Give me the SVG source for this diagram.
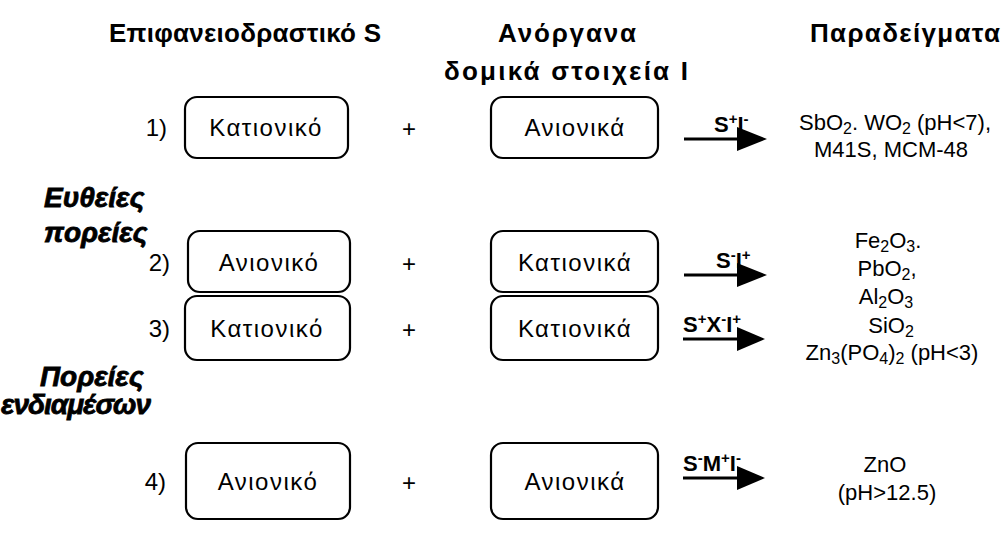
<svg xmlns="http://www.w3.org/2000/svg" width="1007" height="544" viewBox="0 0 1007 544">
  <style>
    text { font-family: "Liberation Sans", Arial, sans-serif; fill: #000; }
    .hdr { font-size: 26px; font-weight: bold; text-anchor: middle; }
    .box { fill: #fff; stroke: #000; stroke-width: 2.2; }
    .lbl { font-size: 24px; text-anchor: middle; letter-spacing: 1.5px; }
    .num { font-size: 24px; text-anchor: end; }
    .plus { font-size: 24px; text-anchor: middle; }
    .side { font-size: 28px; font-weight: bold; font-style: italic; stroke: #000; stroke-width: 0.8px; }
    .rx { font-size: 22px; font-weight: bold; }
    .ex { font-size: 22px; text-anchor: middle; }
    .sub { font-size: 16px; }
    .sup { font-size: 15px; }
    .shaft { stroke: #000; stroke-width: 3; fill: none; }
    .head { fill: #000; }
  </style>

  <!-- column headings -->
  <g id="headings">
    <text class="hdr" x="245" y="42" textLength="272" lengthAdjust="spacing">Επιφανειοδραστικό S</text>
    <text class="hdr" x="567" y="42" textLength="138" lengthAdjust="spacing">Ανόργανα</text>
    <text class="hdr" x="566" y="80" textLength="244" lengthAdjust="spacing">δομικά στοιχεία Ι</text>
    <text class="hdr" x="905" y="42" textLength="190" lengthAdjust="spacing">Παραδείγματα</text>
  </g>

  <!-- pathway group labels -->
  <g id="group-direct">
    <text class="side" x="44" y="207">Ευθείες</text>
    <text class="side" x="44" y="242">πορείες</text>
  </g>
  <g id="group-mediated">
    <text class="side" x="40" y="386">Πορείες</text>
    <text class="side" x="1" y="414" textLength="150" lengthAdjust="spacing">ενδιαμέσων</text>
  </g>

  <!-- row 1 -->
  <g id="row1">
    <text class="num" x="167" y="136">1)</text>
    <g id="s1"><rect class="box" x="185" y="97" width="163" height="61" rx="12"/><text class="lbl" x="266" y="136">Κατιονικό</text></g>
    <text class="plus" x="409" y="137">+</text>
    <g id="i1"><rect class="box" x="491" y="97" width="167" height="61" rx="12"/><text class="lbl" x="575" y="136">Ανιονικά</text></g>
    <g id="e1">
      <text class="ex" x="895" y="130">SbO<tspan class="sub" dy="4">2</tspan><tspan dy="-4">. WO</tspan><tspan class="sub" dy="4">2</tspan><tspan dy="-4"> (pH&lt;7),</tspan></text>
      <text class="ex" x="891" y="157">M41S, MCM-48</text>
    </g>
  </g>

  <!-- row 2 -->
  <g id="row2">
    <text class="num" x="170" y="271">2)</text>
    <g id="s2"><rect class="box" x="188" y="231" width="162" height="61" rx="12"/><text class="lbl" x="269" y="271">Ανιονικό</text></g>
    <text class="plus" x="409" y="272">+</text>
    <g id="i2"><rect class="box" x="491" y="231" width="167" height="61" rx="12"/><text class="lbl" x="575" y="271">Κατιονικά</text></g>
    <g id="e2">
      <text class="ex" x="888" y="248">Fe<tspan class="sub" dy="4">2</tspan><tspan dy="-4">O</tspan><tspan class="sub" dy="4">3</tspan><tspan dy="-4">.</tspan></text>
      <text class="ex" x="887" y="276">PbO<tspan class="sub" dy="4">2</tspan><tspan dy="-4">,</tspan></text>
      <text class="ex" x="886" y="304">Al<tspan class="sub" dy="4">2</tspan><tspan dy="-4">O</tspan><tspan class="sub" dy="4">3</tspan></text>
    </g>
  </g>

  <!-- row 3 -->
  <g id="row3">
    <text class="num" x="170" y="337">3)</text>
    <g id="s3"><rect class="box" x="185" y="296" width="165" height="64" rx="12"/><text class="lbl" x="267" y="337">Κατιονικό</text></g>
    <text class="plus" x="409" y="338">+</text>
    <g id="i3"><rect class="box" x="491" y="296" width="167" height="64" rx="12"/><text class="lbl" x="575" y="337">Κατιονικά</text></g>
    <g id="e3">
      <text class="ex" x="891" y="333">SiO<tspan class="sub" dy="4">2</tspan></text>
      <text class="ex" x="892" y="360">Zn<tspan class="sub" dy="4">3</tspan><tspan dy="-4">(PO</tspan><tspan class="sub" dy="4">4</tspan><tspan dy="-4">)</tspan><tspan class="sub" dy="4">2</tspan><tspan dy="-4"> (pH&lt;3)</tspan></text>
    </g>
  </g>

  <!-- row 4 -->
  <g id="row4">
    <text class="num" x="166" y="490">4)</text>
    <g id="s4"><rect class="box" x="186" y="443" width="164" height="76" rx="12"/><text class="lbl" x="268" y="490">Ανιονικό</text></g>
    <text class="plus" x="409" y="491">+</text>
    <g id="i4"><rect class="box" x="491" y="443" width="167" height="76" rx="12"/><text class="lbl" x="575" y="490">Ανιονικά</text></g>
    <g id="e4">
      <text class="ex" x="885" y="472">ZnO</text>
      <text class="ex" x="887" y="500">(pH&gt;12.5)</text>
    </g>
  </g>

  <!-- reaction arrows with interaction labels -->
  <g id="connectors">
    <g id="a1">
      <line class="shaft" x1="684" y1="139" x2="742" y2="139"/>
      <polygon class="head" points="737,127 767,139 737,151"/>
      <text class="rx" x="714" y="132">S<tspan class="sup" dy="-8">+</tspan><tspan dy="8">I</tspan><tspan class="sup" dy="-8">-</tspan></text>
    </g>
    <g id="a2">
      <line class="shaft" x1="684" y1="275" x2="742" y2="275"/>
      <polygon class="head" points="737,263 767,275 737,287"/>
      <text class="rx" x="716" y="268">S<tspan class="sup" dy="-8">-</tspan><tspan dy="8">I</tspan><tspan class="sup" dy="-8">+</tspan></text>
    </g>
    <g id="a3">
      <line class="shaft" x1="683" y1="339" x2="742" y2="339"/>
      <polygon class="head" points="737,327 765,339 737,351"/>
      <text class="rx" x="683" y="332">S<tspan class="sup" dy="-8">+</tspan><tspan dy="8">X</tspan><tspan class="sup" dy="-8">-</tspan><tspan dy="8">I</tspan><tspan class="sup" dy="-8">+</tspan></text>
    </g>
    <g id="a4">
      <line class="shaft" x1="683" y1="478" x2="742" y2="478"/>
      <polygon class="head" points="737,466 765,478 737,490"/>
      <text class="rx" x="683" y="471">S<tspan class="sup" dy="-8">-</tspan><tspan dy="8">M</tspan><tspan class="sup" dy="-8">+</tspan><tspan dy="8">I</tspan><tspan class="sup" dy="-8">-</tspan></text>
    </g>
  </g>
</svg>
